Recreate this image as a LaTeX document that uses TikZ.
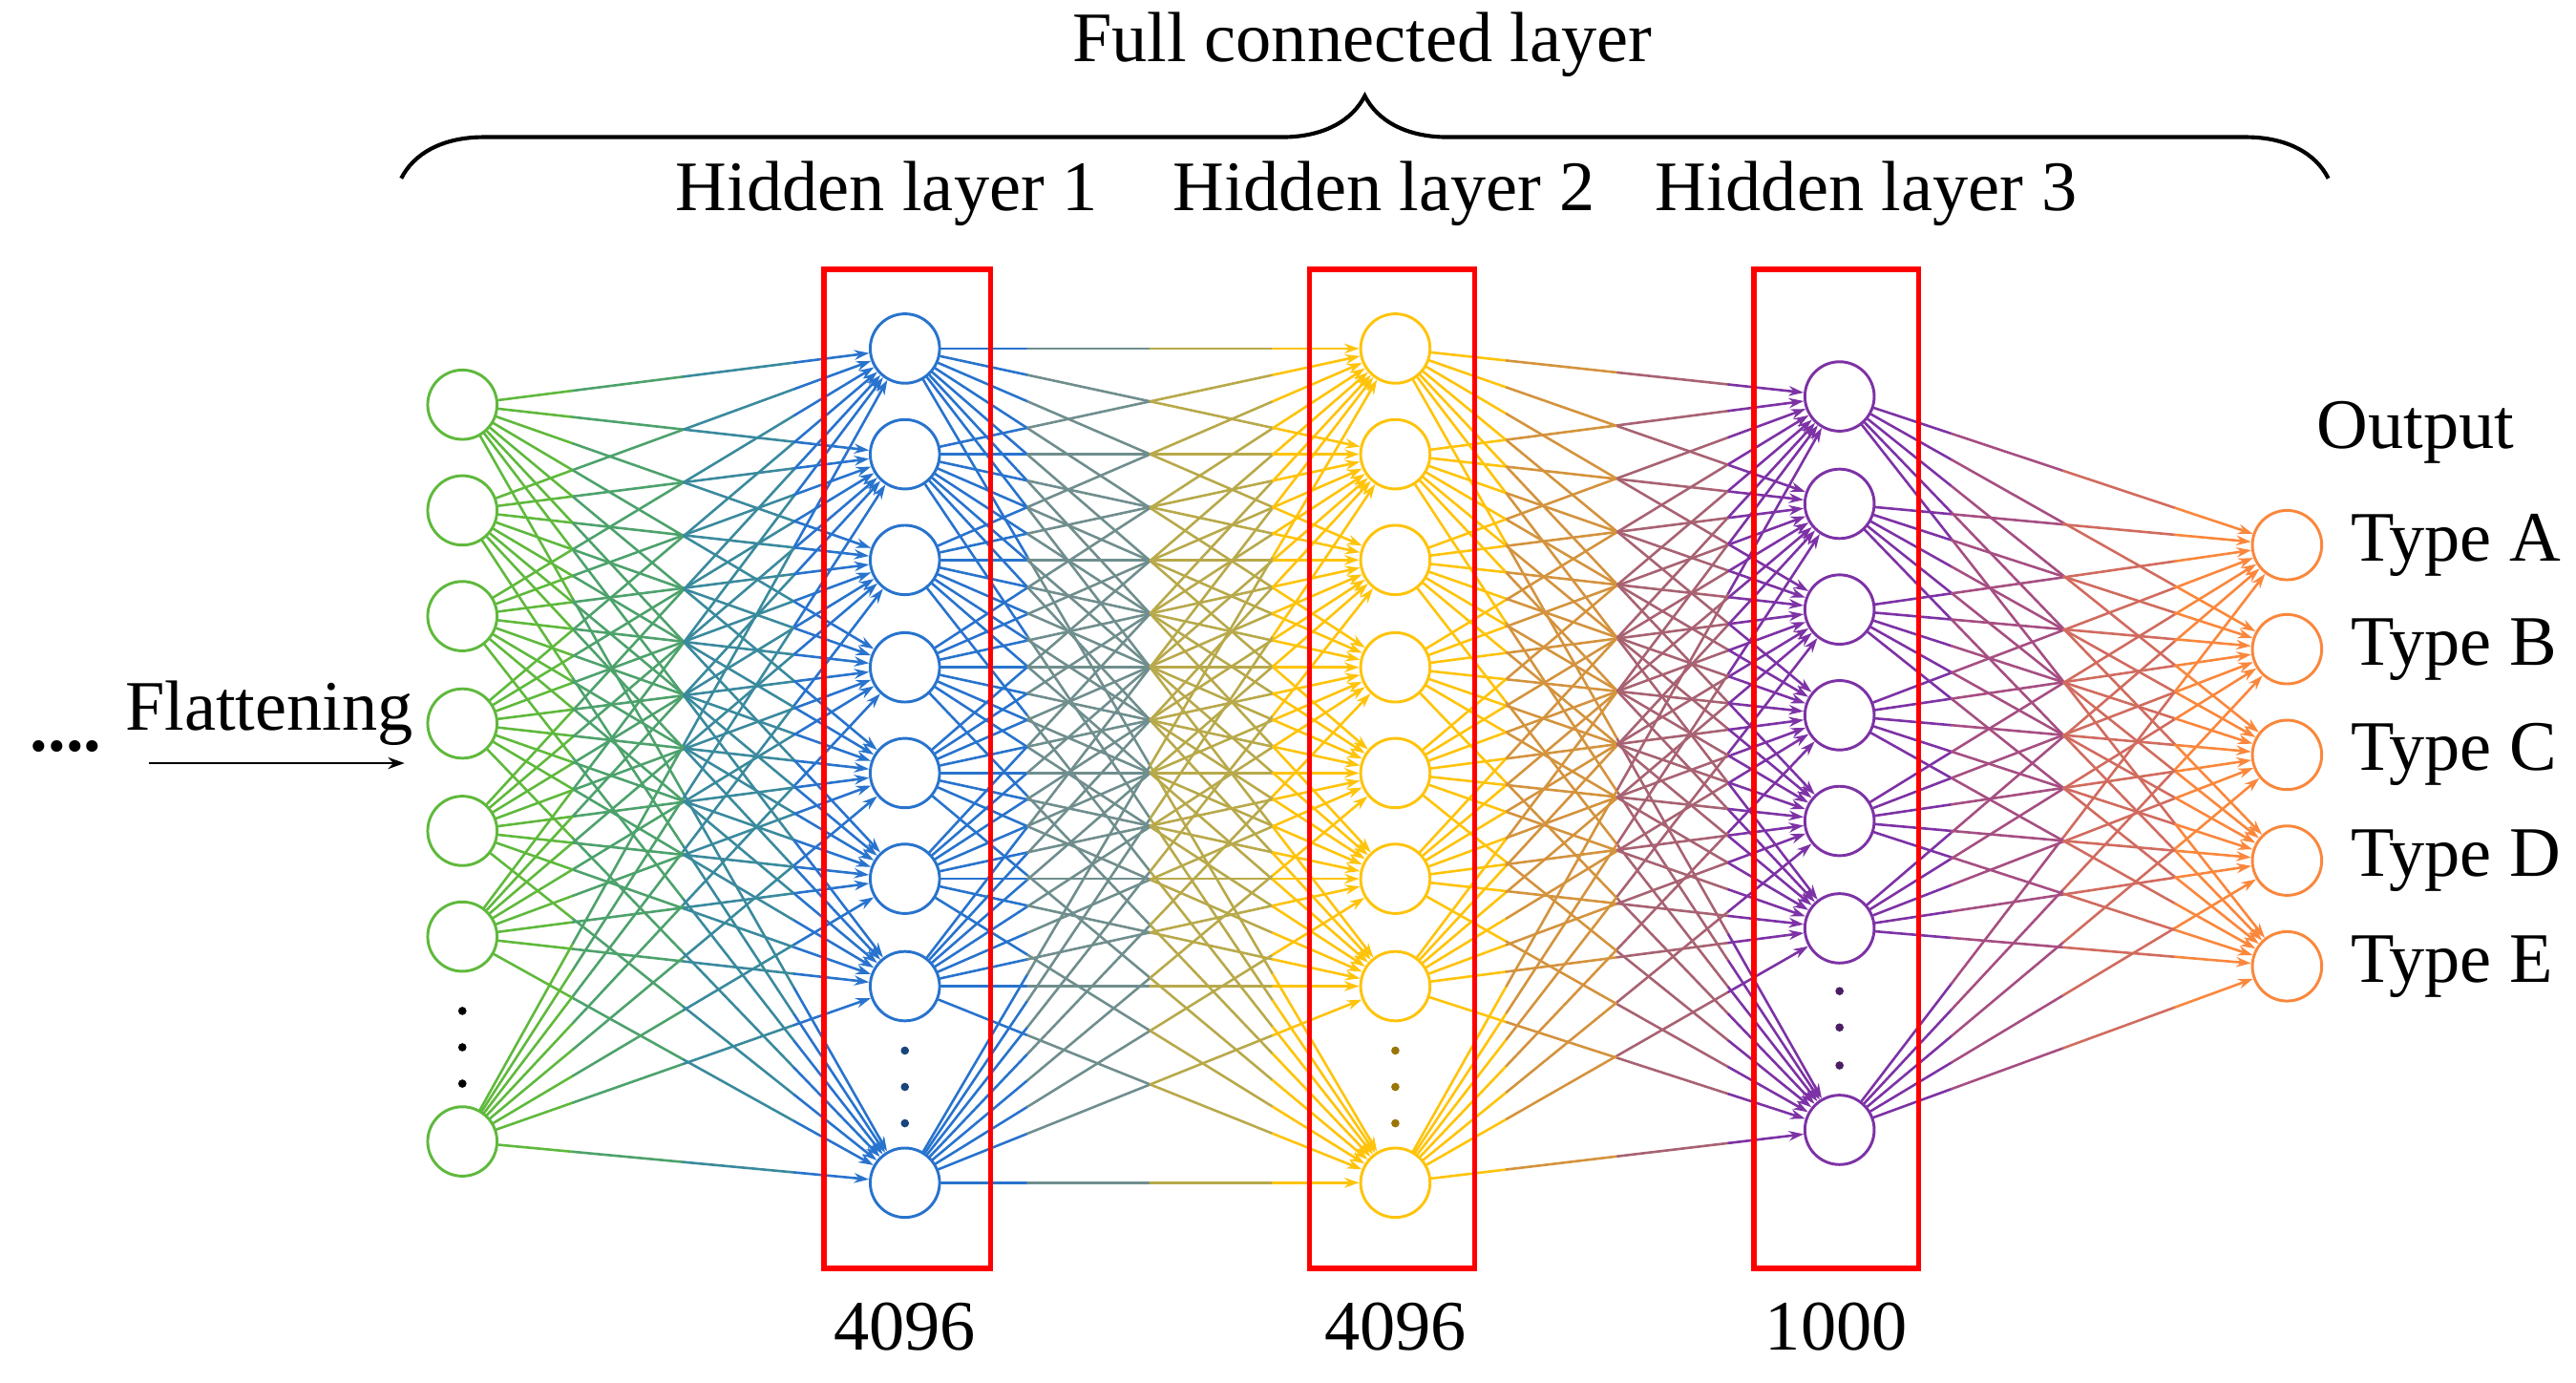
\documentclass[tikz,border=0pt]{standalone}
\usepackage{fontspec}
\setmainfont{Liberation Serif}
\usetikzlibrary{calc,arrows.meta,backgrounds,decorations.pathreplacing}
\definecolor{cg}{RGB}{95,185,60}
\definecolor{cb}{RGB}{40,115,205}
\definecolor{cy}{RGB}{255,195,10}
\definecolor{cp}{RGB}{125,50,165}
\definecolor{co}{RGB}{250,135,60}
\newcommand\gedge[4]{%
\draw[edge,#3] (#1) -- ($(#1)!0.25!(#2)$);
\draw[edge,#3!67!#4] ($(#1)!0.25!(#2)$) -- ($(#1)!0.5!(#2)$);
\draw[edge,#3!33!#4] ($(#1)!0.5!(#2)$) -- ($(#1)!0.75!(#2)$);
\draw[edge,#4,-{Stealth[length=9pt,width=6pt]}] ($(#1)!0.75!(#2)$) -- (#2);}
\begin{document}
\begin{tikzpicture}[x=1pt,y=-1pt,
  neu/.style={circle,draw=#1,line width=1.7pt,fill=white,minimum size=42pt,inner sep=0pt},
  edge/.style={line width=1.5pt,line cap=round},
  dot/.style={circle,fill=#1,inner sep=0pt,minimum size=5pt},
  txt/.style={font=\fontsize{43}{50}\selectfont},
  box/.style={draw=red,line width=3.2pt}]
\useasboundingbox (0,0) rectangle (1560,837);
% nodes
\foreach \y [count=\i] in {245,309,373,438,503,567,691} \node[neu=cg] (i\i) at (280,\y) {};
\foreach \y [count=\i] in {211,275,339,404,468,532,597,716} {
  \node[neu=cb] (a\i) at (548,\y) {};
  \node[neu=cy] (b\i) at (845,\y) {};}
\foreach \y [count=\i] in {240,305,369,433,497,562,684} \node[neu=cp] (c\i) at (1114,\y) {};
\foreach \y [count=\i] in {330,393,457,521,585} \node[neu=co] (o\i) at (1385,\y) {};
\foreach \y in {612,634,656} \node[dot=black] at (280,\y) {};
\foreach \y in {636,658,680} {\node[dot=cb!60!black] at (548,\y) {}; \node[dot=cy!60!black] at (845,\y) {};}
\foreach \y in {600,622,645} \node[dot=cp!60!black] at (1114,\y) {};
% edges
\begin{pgfonlayer}{background}
\foreach \i in {1,...,7} \foreach \j in {1,...,8} {\gedge{i\i}{a\j}{cg}{cb}}
\foreach \i in {1,...,8} \foreach \j in {1,...,8} {\gedge{a\i}{b\j}{cb}{cy}}
\foreach \i in {1,...,8} \foreach \j in {1,...,7} {\gedge{b\i}{c\j}{cy}{cp}}
\foreach \i in {1,...,7} \foreach \j in {1,...,5} {\gedge{c\i}{o\j}{cp}{co}}
\end{pgfonlayer}
% boxes
\node[box,minimum width=101pt,minimum height=605pt,inner sep=0pt] (r1) at (549.5,465.5) {};
\node[box,minimum width=100pt,minimum height=605pt,inner sep=0pt] (r2) at (843,465.5) {};
\node[box,minimum width=100pt,minimum height=605pt,inner sep=0pt] (r3) at (1112,465.5) {};
% labels
\node[txt] (n1) at (548,803) {4096};
\node[txt] (n2) at (845,803) {4096};
\node[txt] (n3) at (1112,803) {1000};
\node[txt] (h1) at (537,117) {Hidden layer 1};
\node[txt] (h2) at (838,117) {Hidden layer 2};
\node[txt] (h3) at (1130,117) {Hidden layer 3};
\node[txt] (fc) at (825,27) {Full connected layer};
\coordinate (bl) at (243,108);
\coordinate (br) at (1410,108);
\draw[line width=2.4pt,decorate,decoration={brace,amplitude=50pt,aspect=0.5}] (bl) -- (br);
\node[txt] (out) at (1463,262) {Output};
\foreach \t/\y in {A/330,B/393,C/457,D/521,E/585} \node[txt,anchor=west] (t\t) at (1420,\y) {Type \t};
\node[txt] (fl) at (163,432) {Flattening};
\node[txt,font=\fontsize{43}{50}\bfseries] (dd) at (40,452) {....};
\coordinate (fa) at (90,462);
\coordinate (fb) at (245,462);
\draw[line width=1.6pt,-{Stealth[length=10pt,width=7pt]}] (fa) -- (fb);
\end{tikzpicture}
\end{document}
